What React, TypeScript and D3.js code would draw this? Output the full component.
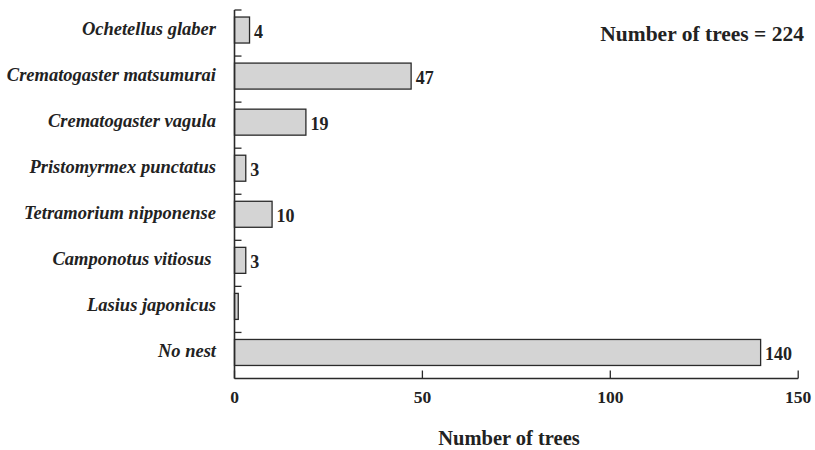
import React from "react";
import * as d3 from "d3";

const categories = [
  "Ochetellus glaber",
  "Crematogaster matsumurai",
  "Crematogaster vagula",
  "Pristomyrmex punctatus",
  "Tetramorium nipponense",
  "Camponotus vitiosus ",
  "Lasius japonicus",
  "No nest",
];
const counts = [4, 47, 19, 3, 10, 3, 1, 140];
const valueLabels = ["4", "47", "19", "3", "10", "3", "", "140"];
const xTicks = [0, 50, 100, 150];
const totalLabel = "Number of trees = 224";
const xTitle = "Number of trees";

const W = 815;
const H = 450;
const left = 234.5;
const right = 798.2;
const top = 10;
const bottom = 378.5;
const FONT = "'Liberation Serif', 'Times New Roman', serif";
const INK = "#222";

export default function App() {
  const x = d3.scaleLinear().domain([0, 150]).range([left, right]);
  const y = d3.scaleBand<string>().domain(categories).range([top, bottom]).padding(0);
  const step = y.step();
  const barH = 26;

  return (
    <svg width={W} height={H} style={{ position: "absolute", left: 0, top: 0, background: "#fff" }}>
      {/* bars with value and category labels */}
      {categories.map((c, i) => {
        const cy = (y(c) ?? 0) + step / 2 - 3;
        return (
          <g key={c}>
            <rect
              x={x(0)}
              y={cy - barH / 2}
              width={x(counts[i]) - x(0)}
              height={barH}
              fill="#d4d4d4"
              stroke="#2a2a2a"
              strokeWidth={1.3}
            />
            {valueLabels[i] && (
              <text
                x={x(counts[i]) + 4.5}
                y={cy + 8}
                fontFamily={FONT}
                fontWeight="bold"
                fontSize={18}
                fill={INK}
              >
                {valueLabels[i]}
              </text>
            )}
            <text
              x={216}
              y={cy + 4.5}
              textAnchor="end"
              fontFamily={FONT}
              fontWeight="bold"
              fontStyle="italic"
              fontSize={18.5}
              fill={INK}
              style={{ whiteSpace: "pre" }}
            >
              {c}
            </text>
          </g>
        );
      })}
      {/* y axis with ticks at band boundaries */}
      <line x1={left} x2={left} y1={top} y2={bottom} stroke="#2a2a2a" strokeWidth={1.6} />
      {categories.map((c) => (
        <line key={"t" + c} x1={left} x2={left + 7} y1={y(c)} y2={y(c)} stroke="#2a2a2a" strokeWidth={1.3} />
      ))}
      {/* x axis */}
      <line x1={left} x2={right} y1={bottom} y2={bottom} stroke="#2a2a2a" strokeWidth={1.6} />
      {xTicks.map((t) => (
        <g key={t}>
          <line x1={x(t)} x2={x(t)} y1={bottom} y2={bottom - 8} stroke="#2a2a2a" strokeWidth={1.3} />
          <text
            x={x(t)}
            y={403}
            textAnchor="middle"
            fontFamily={FONT}
            fontWeight="bold"
            fontSize={17.5}
            fill={INK}
          >
            {t}
          </text>
        </g>
      ))}
      <text
        x={509}
        y={445}
        textAnchor="middle"
        fontFamily={FONT}
        fontWeight="bold"
        fontSize={20.5}
        fill={INK}
      >
        {xTitle}
      </text>
      <text x={804} y={41} textAnchor="end" fontFamily={FONT} fontWeight="bold" fontSize={21.5} fill={INK}>
        {totalLabel}
      </text>
    </svg>
  );
}
